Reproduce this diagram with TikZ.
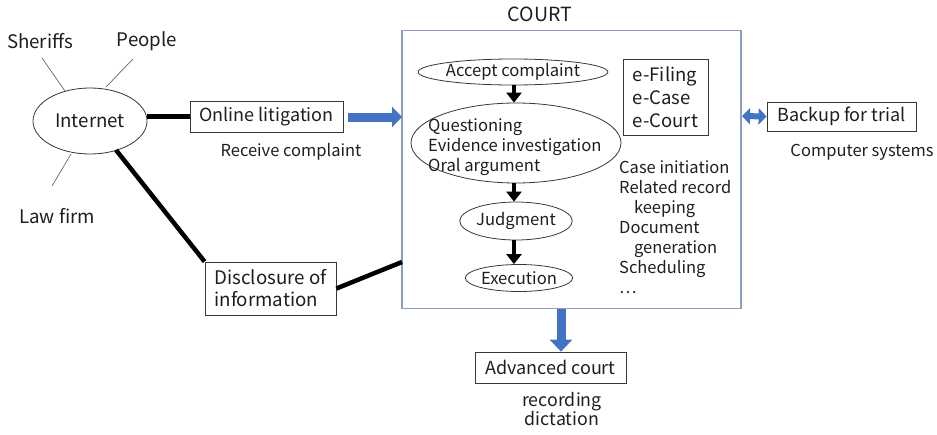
\documentclass[tikz,border=0pt]{standalone}
\usepackage{fontspec}
\setmainfont{Noto Sans CJK JP}
\usetikzlibrary{arrows.meta,shapes.geometric}
\definecolor{courtline}{RGB}{140,158,190}
\definecolor{flowblue}{RGB}{68,114,196}
\definecolor{outline}{RGB}{55,55,55}
\definecolor{ink}{RGB}{30,30,30}
\begin{document}
\begin{tikzpicture}[x=1pt,y=-1pt,
  every node/.style={font=\fontsize{18}{21}\selectfont, text=ink, inner sep=0pt},
  big/.style={font=\fontsize{18.7}{22}\selectfont},
  inner/.style={font=\fontsize{16.6}{20}\selectfont},
  small/.style={font=\fontsize{16.5}{20}\selectfont},
  boxed/.style={draw=outline, line width=0.8pt, fill=white, inner xsep=6pt},
  stage/.style={ellipse, draw=outline, line width=0.8pt, inner sep=0pt},
  spoke/.style={draw=black!60, line width=0.7pt},
  link/.style={draw=black, line width=4.5pt},
  flow/.style={draw=black, line width=4.5pt, -{Triangle[length=10pt,width=15pt]}},
  bigflow/.style={draw=flowblue, line width=9pt, -{Triangle[length=10pt,width=20pt]}},
  twoflow/.style={draw=flowblue, line width=6pt, {Triangle[length=8pt,width=16pt]}-{Triangle[length=8pt,width=16pt]}},
]
\useasboundingbox (0,0) rectangle (937,434);

% the court and its work flow
\node[draw=courtline, line width=1.1pt, minimum width=339pt, minimum height=278pt] (court) at (571.5,169.5) {};
\node[font=\fontsize{19.5}{22}\selectfont] (courtlbl) at (540,14) {COURT};

\node[stage, inner, minimum width=158pt, minimum height=26pt] (accept) at (513,72) {Accept complaint};
\node[stage, minimum width=210pt, minimum height=80pt] (hearing) at (516,143) {};
\node[inner, anchor=west, align=left] (hearingtxt) at (428,147) {Questioning\\Evidence investigation\\Oral argument};
\node[stage, inner, minimum width=108pt, minimum height=38pt] (judgment) at (516,221) {Judgment};
\node[stage, inner, minimum width=101pt, minimum height=27pt] (execution) at (519,278) {Execution};

\coordinate (axis) at (514,0);
\draw[flow] (accept.south -| axis) -- (hearing.north -| axis);
\draw[flow] (hearing.south -| axis) -- (judgment.north -| axis);
\draw[flow] (judgment.south -| axis) -- (execution.north -| axis);

\node[boxed, minimum width=85pt, minimum height=76pt, align=left, font=\fontsize{18.5}{23}\selectfont] (esys) at (665.5,97) {e-Filing\\e-Case\\e-Court};
\node[small, anchor=north west, align=left] (tasks) at (619,161) {Case initiation\\Related record\\\hspace{0.9em}keeping\\Document\\\hspace{0.9em}generation\\Scheduling\\…};

% outside parties and the internet
\node[stage, big, minimum width=114pt, minimum height=66pt] (internet) at (90,121) {Internet};
\node[big] (sheriffs) at (40,41) {Sheriffs};
\node[big] (people) at (147,41) {People};
\node[big] (lawfirm) at (57,216) {Law firm};
\coordinate (s1) at (42,58);  \coordinate (s2) at (65,91);
\coordinate (p1) at (133,59); \coordinate (p2) at (106,87);
\coordinate (l1) at (71,154); \coordinate (l2) at (52,186);
\draw[spoke] (s1) -- (s2);
\draw[spoke] (p1) -- (p2);
\draw[spoke] (l1) -- (l2);

\node[boxed, minimum width=153pt, minimum height=31pt] (online) at (266.5,116.5) {Online litigation};
\node[small] (receive) at (291,152) {Receive complaint};
\node[boxed, big, minimum width=131pt, minimum height=53pt, align=left, inner xsep=7pt] (disclose) at (270.5,288.5) {Disclosure of\\information};

\coordinate (netlow) at (116,150);
\coordinate (courtside) at (402,262);
\draw[link] (internet.east |- online.west) -- (online.west);
\draw[link] (netlow) -- (disclose.north west);
\draw[link] (disclose.east) -- (courtside);

\coordinate (onlinetip) at (402,117);
\draw[bigflow] ([xshift=5pt]online.east |- onlinetip) -- (onlinetip);

% systems around the court
\node[boxed, minimum width=149pt, minimum height=29pt] (backup) at (841.5,116.5) {Backup for trial};
\node[small] (computers) at (862,152) {Computer systems};
\coordinate (courtright) at (742,116);
\draw[twoflow] (courtright) -- (backup.west);

\node[boxed, minimum width=151pt, minimum height=31pt] (advanced) at (550.5,367.5) {Advanced court};
\node[align=center, font=\fontsize{17.8}{19}\selectfont] (record) at (562,409) {recording\\dictation};
\coordinate (courtbottom) at (561,309);
\draw[bigflow, line width=9pt, -{Triangle[length=12pt,width=22pt]}] (courtbottom) -- (advanced.north -| courtbottom);
\end{tikzpicture}
\end{document}
